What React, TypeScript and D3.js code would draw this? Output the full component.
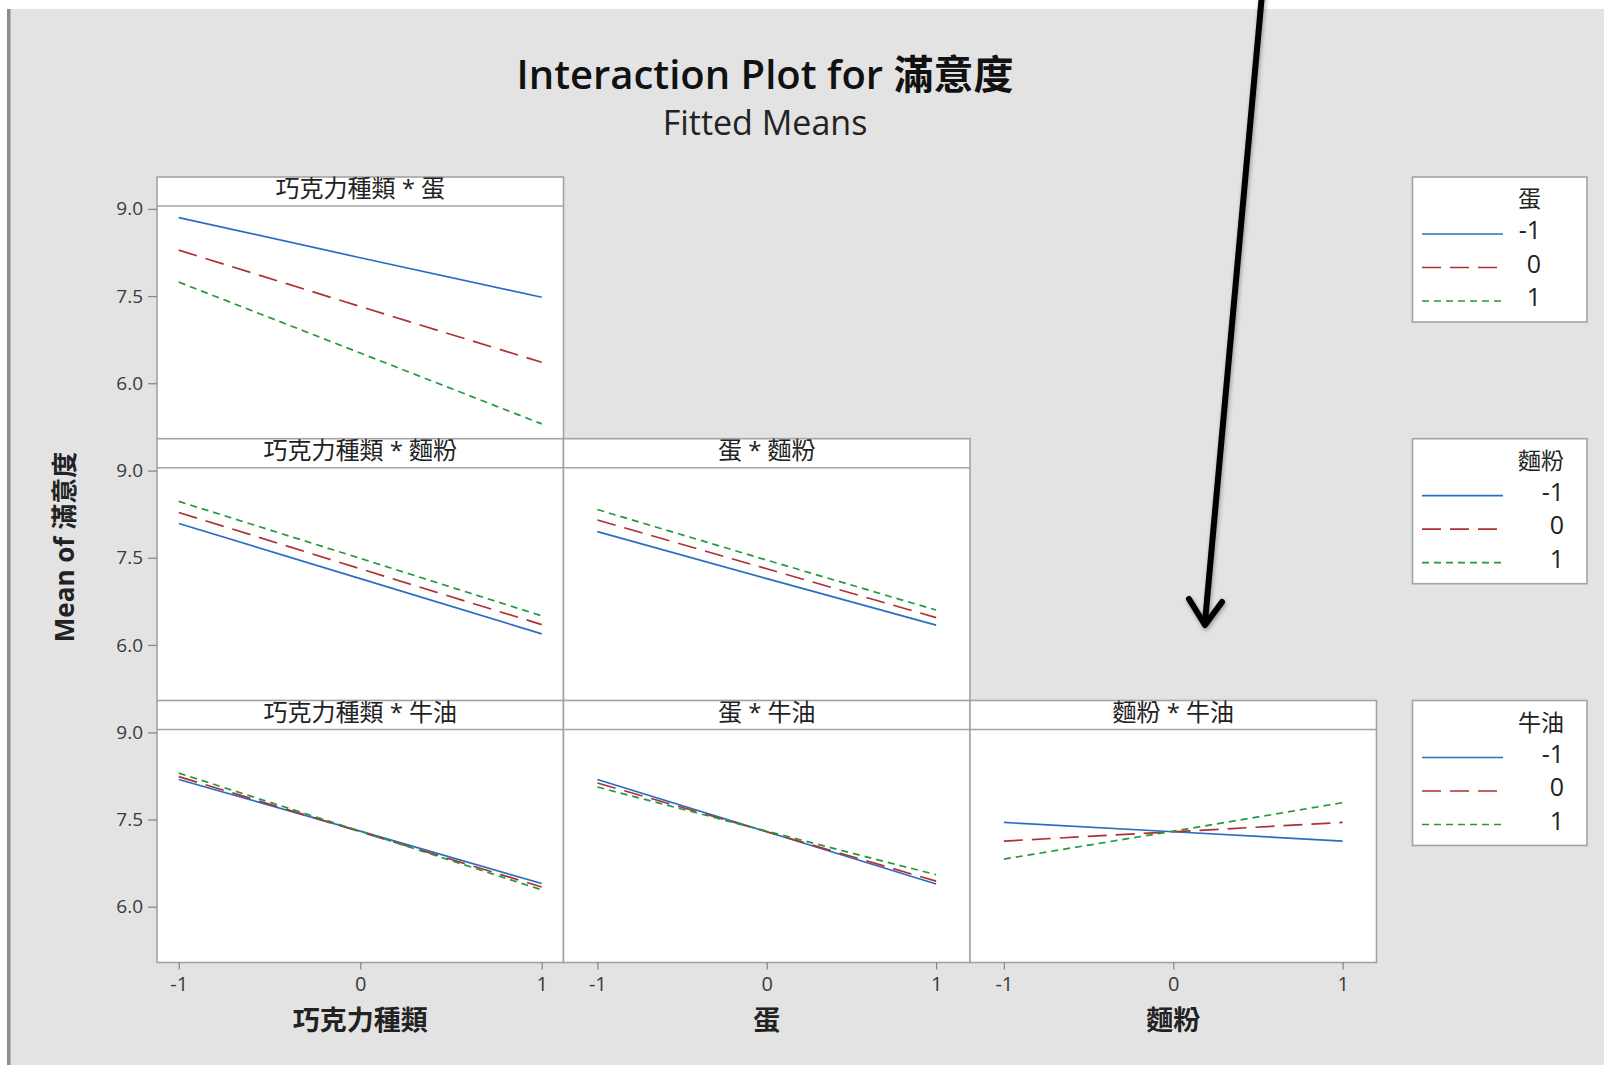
import { useEffect, useRef } from 'react'
import * as d3 from 'd3'

// factor names and levels
const xFactors = ['巧克力種類', '蛋', '麵粉']
const traceFactors = ['蛋', '麵粉', '牛油']
const levels = [-1, 0, 1]
const traceLabels = ['-1', '0', '1']
const xTicks = [-1, 0, 1]
const yTicks = [6.0, 7.5, 9.0]

// fitted means, one row per trace level (-1, 0, 1), one value per x level
const chocEgg = [
  [8.85, 8.16, 7.48],
  [8.29, 7.32, 6.36],
  [7.74, 6.52, 5.3],
]
const chocFlour = [
  [8.09, 7.14, 6.19],
  [8.28, 7.31, 6.35],
  [8.47, 7.49, 6.5],
]
const eggFlour = [
  [7.95, 7.14, 6.34],
  [8.15, 7.31, 6.47],
  [8.33, 7.46, 6.6],
]
const chocButter = [
  [8.19, 7.3, 6.4],
  [8.24, 7.29, 6.34],
  [8.3, 7.3, 6.29],
]
const eggButter = [
  [8.19, 7.29, 6.39],
  [8.13, 7.29, 6.44],
  [8.06, 7.3, 6.55],
]
const flourButter = [
  [7.45, 7.29, 7.13],
  [7.13, 7.29, 7.45],
  [6.82, 7.3, 7.79],
]

// [row][col]
const panelValues = [[chocEgg], [chocFlour, eggFlour], [chocButter, eggButter, flourButter]]

const W = 1604
const H = 1065
const FONT = "'Open Sans','Noto Sans CJK TC',sans-serif"
const colors = ['#2b6cc4', '#b03030', '#239a3b']
const dashes = ['none', '19,9', '7,5']
const BORDER = '#a3a3a3'

export default function App() {
  const svgRef = useRef<SVGSVGElement>(null)

  useEffect(() => {
    const svg = d3.select(svgRef.current)
    svg.selectAll('*').remove()

    // background: white page, gray chart area with a dark left edge
    svg.append('rect').attr('width', W).attr('height', H).attr('fill', '#fff')
    svg.append('rect').attr('x', 10).attr('y', 9).attr('width', W - 10).attr('height', H - 9).attr('fill', '#e3e3e3')
    svg.append('rect').attr('x', 7).attr('y', 9).attr('width', 3.5).attr('height', H - 9).attr('fill', '#8c8c8c')

    // titles
    svg.append('text')
      .attr('x', 765).attr('y', 89)
      .attr('text-anchor', 'middle')
      .attr('font-family', FONT).attr('font-size', 40).attr('font-weight', 600).attr('fill', '#111')
      .text('Interaction Plot for 滿意度')
    svg.append('text')
      .attr('x', 765).attr('y', 135)
      .attr('text-anchor', 'middle')
      .attr('font-family', FONT).attr('font-size', 34).attr('fill', '#222')
      .text('Fitted Means')

    const gridLeft = 157
    const panelW = 406.5
    const rowTops = [177, 438.7, 700.5]
    const headerH = 29
    const plotH = 233

    const xDomains = [[-1.12, 1.12], [-1.2, 1.2], [-1.2, 1.2]]

    panelValues.forEach((row, r) => {
      row.forEach((values, c) => {
        const x0 = gridLeft + c * panelW
        const y0 = rowTops[r]
        const g = svg.append('g')

        g.append('rect')
          .attr('x', x0).attr('y', y0)
          .attr('width', panelW).attr('height', headerH + plotH)
          .attr('fill', '#fff').attr('stroke', BORDER).attr('stroke-width', 1.6)
        g.append('line')
          .attr('x1', x0).attr('x2', x0 + panelW)
          .attr('y1', y0 + headerH).attr('y2', y0 + headerH)
          .attr('stroke', BORDER).attr('stroke-width', 1.6)
        g.append('text')
          .attr('x', x0 + panelW / 2).attr('y', y0 + 20)
          .attr('text-anchor', 'middle')
          .attr('font-family', FONT).attr('font-size', 24).attr('fill', '#222')
          .text(`${xFactors[c]} * ${traceFactors[r]}`)

        const x = d3.scaleLinear().domain(xDomains[c]).range([x0, x0 + panelW])
        const y = d3.scaleLinear().domain([5.04, 9.05]).range([y0 + headerH + plotH, y0 + headerH])

        const line = d3.line<number>()
          .x((_, i) => x(levels[i]))
          .y((d) => y(d))

        values.forEach((series, k) => {
          g.append('path')
            .attr('d', line(series))
            .attr('fill', 'none')
            .attr('stroke', colors[k])
            .attr('stroke-width', 1.7)
            .attr('stroke-dasharray', dashes[k])
        })

        if (c === 0) {
          const ay = g.append('g')
            .attr('transform', `translate(${x0},0)`)
            .call(
              d3.axisLeft(y)
                .tickValues(yTicks)
                .tickFormat(d3.format('.1f'))
                .tickSize(9)
                .tickPadding(5),
            )
          ay.select('.domain').remove()
          ay.selectAll('line').attr('stroke', '#8a8a8a').attr('stroke-width', 1.3)
          ay.selectAll('text')
            .attr('font-family', FONT).attr('font-size', 19).attr('fill', '#3a3a3a')
        }

        if (r === panelValues.length - 1) {
          const ax = g.append('g')
            .attr('transform', `translate(0,${y0 + headerH + plotH})`)
            .call(
              d3.axisBottom(x)
                .tickValues(xTicks)
                .tickFormat((d) => String(d))
                .tickSize(7)
                .tickPadding(7),
            )
          ax.select('.domain').remove()
          ax.selectAll('line').attr('stroke', '#8a8a8a').attr('stroke-width', 1.3)
          ax.selectAll('text')
            .attr('font-family', FONT).attr('font-size', 20).attr('fill', '#3a3a3a')

          svg.append('text')
            .attr('x', x(0)).attr('y', 1030)
            .attr('text-anchor', 'middle')
            .attr('font-family', FONT).attr('font-size', 27).attr('font-weight', 700).attr('fill', '#222')
            .text(xFactors[c])
        }
      })
    })

    // y axis title
    svg.append('text')
      .attr('transform', 'translate(74,547) rotate(-90)')
      .attr('text-anchor', 'middle')
      .attr('font-family', FONT).attr('font-size', 26).attr('font-weight', 700).attr('fill', '#222')
      .text('Mean of 滿意度')

    // legends, one per row
    const legX = 1412.5
    traceFactors.forEach((name, r) => {
      const top = rowTops[r]
      const lg = svg.append('g')
      lg.append('rect')
        .attr('x', legX).attr('y', top)
        .attr('width', 174.5).attr('height', 145)
        .attr('fill', '#fff').attr('stroke', BORDER).attr('stroke-width', 1.6)
      const title = lg.append('text')
        .attr('x', 1518).attr('y', top + 30)
        .attr('font-family', FONT).attr('font-size', 23).attr('fill', '#222')
        .text(name)
      const right = 1518 + (title.node() as SVGTextElement).getComputedTextLength()
      traceLabels.forEach((lab, k) => {
        const ly = top + 57 + k * 33.5
        lg.append('line')
          .attr('x1', 1422).attr('x2', 1503)
          .attr('y1', ly).attr('y2', ly)
          .attr('stroke', colors[k]).attr('stroke-width', 1.7)
          .attr('stroke-dasharray', dashes[k])
        lg.append('text')
          .attr('x', right).attr('y', ly + 5)
          .attr('text-anchor', 'end')
          .attr('font-family', FONT).attr('font-size', 25).attr('fill', '#222')
          .text(lab)
      })
    })

    // hand-drawn annotation arrow
    const defs = svg.append('defs')
    const f = defs.append('filter').attr('id', 'arrowShadow').attr('x', '-50%').attr('y', '-5%').attr('width', '200%').attr('height', '110%')
    f.append('feDropShadow').attr('dx', 1).attr('dy', 2).attr('stdDeviation', 2).attr('flood-color', '#000').attr('flood-opacity', 0.35)
    const arrow = svg.append('g').attr('filter', 'url(#arrowShadow)')
    arrow.append('line')
      .attr('x1', 1262).attr('y1', -6).attr('x2', 1205).attr('y2', 622)
      .attr('stroke', '#000').attr('stroke-width', 6).attr('stroke-linecap', 'round')
    arrow.append('path')
      .attr('d', 'M1189,599 L1205,625 L1222,602')
      .attr('fill', 'none').attr('stroke', '#000').attr('stroke-width', 6)
      .attr('stroke-linecap', 'round').attr('stroke-linejoin', 'round')
  }, [])

  return <svg ref={svgRef} width={W} height={H} style={{ position: 'absolute', left: 0, top: 0, display: 'block' }} />
}
